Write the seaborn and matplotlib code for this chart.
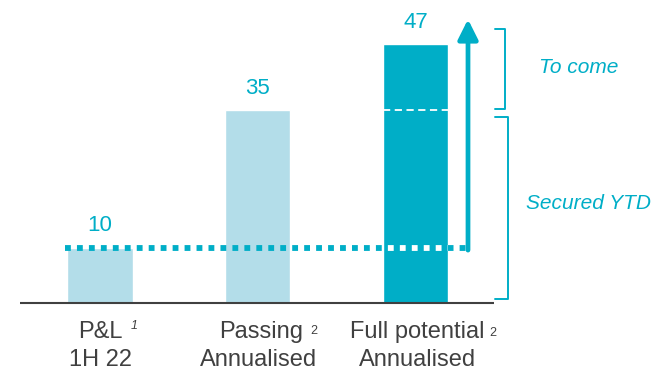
import matplotlib
matplotlib.use("Agg")
import matplotlib.pyplot as plt
import seaborn as sns

# data
categories = ["P&L 1H 22", "Passing Annualised", "Full potential Annualised"]
values = [10, 35, 47]
line1 = ["P&L", "Passing", "Full potential"]
line2 = ["1H 22", "Annualised", "Annualised"]
notes = ["1", "2", "2"]
bracket_labels = ["To come", "Secured YTD"]

teal = "#00AEC7"
light = "#B3DDE9"
grey = "#404040"
bar_w = 0.415

sns.set_style("white")
plt.rcParams["font.family"] = ["Liberation Sans", "DejaVu Sans"]

fig = plt.figure(figsize=(6.71, 3.71), dpi=100)
ax = fig.add_axes([0, 0, 1, 1])

sns.barplot(x=categories, y=values, hue=categories, palette=[light, light, teal],
            width=bar_w, saturation=1, legend=False, ax=ax, zorder=2)

ax.set_xlim(-0.634, 3.62)
ax.set_ylim(-12.34, 55.0)
ax.set_axis_off()

# baseline
ax.hlines(0, -0.507, 2.5, color=grey, lw=1.5, zorder=3)

# value labels
for i, v in enumerate(values):
    ax.text(i, v + 3.0, str(v), ha="center", va="baseline", fontsize=16, color=teal)

# category labels
l1_x = [0, 1.024, 2.01]
sup_x = [0.197, 1.331, 2.468]
sup_y = [-4.2, -5.0, -5.4]
sup_style = ["italic", "normal", "normal"]
for i in range(len(categories)):
    ax.text(l1_x[i], -5.26, line1[i], ha="center", va="center", fontsize=17, color=grey)
    ax.text(i + 0.005 * i, -10.34, line2[i], ha="center", va="center", fontsize=17, color=grey)
    ax.text(sup_x[i], sup_y[i], notes[i], ha="left", va="center", fontsize=9,
            color=grey, style=sup_style[i])

# dotted "secured" level, white where it crosses the last bar
arrow_x = 2.333
dots = dict(lw=4.2, linestyle=(0, (1.0, 1.05)), solid_capstyle="butt", dash_capstyle="butt")
ax.plot([-0.22, arrow_x], [values[0], values[0]], color=teal, zorder=4, **dots)
white_line, = ax.plot([-0.22, arrow_x], [values[0], values[0]], color="white", zorder=5, **dots)
white_line.set_clip_path(ax.patches[2])

# dashed level of passing value inside last bar
ax.hlines(values[1], 2 - bar_w / 2, 2 + bar_w / 2, color="white", lw=1.3,
          linestyle=(0, (4, 2.5)), zorder=5)

# arrow up
ax.annotate("", xy=(arrow_x, values[2] + 4.5), xytext=(arrow_x, values[0] - 0.4),
            arrowprops=dict(arrowstyle="-|>,head_length=0.6,head_width=0.3", lw=3.4,
                            color=teal, mutation_scale=20, shrinkA=0, shrinkB=0),
            zorder=6)

# brackets
def bracket(x0, x1, y_top, y_bot):
    ax.plot([x0, x1, x1, x0], [y_top, y_top, y_bot, y_bot], color=teal, lw=1.4,
            solid_joinstyle="round", zorder=3)

bracket(2.504, 2.567, values[2] + 2.7, values[1] + 0.2)
bracket(2.504, 2.586, values[1] - 1.2, 0.7)

ax.text(3.036, 42.8, bracket_labels[0], ha="center", va="center", fontsize=15,
        style="italic", color=teal)
ax.text(3.094, 18.1, bracket_labels[1], ha="center", va="center", fontsize=15,
        style="italic", color=teal)

fig.savefig("out.png", dpi=100)
